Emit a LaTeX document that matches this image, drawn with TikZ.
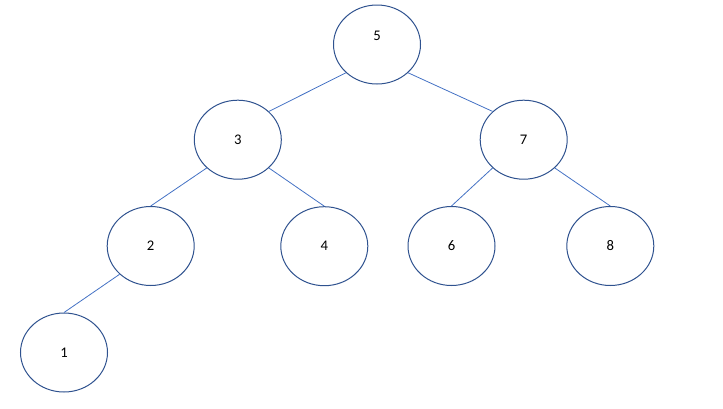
\documentclass[tikz,border=0pt]{standalone}
\usepackage{fontspec}
\setmainfont{Carlito}
\usetikzlibrary{
    positioning,
    shapes.geometric
    }

\definecolor{wordedge}{HTML}{2F528F}
\definecolor{wordline}{HTML}{4472C4}

\begin{document}
\begin{tikzpicture}[x=1pt, y=-1pt]
\tikzset{vertex/.style =
        {
            shape=ellipse,
            line width=1pt,
            draw=wordedge,
            fill=white,
            minimum width=87pt,
            minimum height=79pt,
            inner sep=0pt,
            font=\fontsize{14.7}{16}\selectfont
        }
}

\tikzset{branch/.style =
        {
            line width=0.8pt,
            wordline
        }
}
		\useasboundingbox (0,0) rectangle (723,408);

		\node[vertex, label={[yshift=8.5pt, font=\fontsize{14.7}{16}\selectfont]center:5}] (node-5) at (377,44.5) {};

		\foreach \n / \x / \y in
			{3/237.8/139.7,
				7/523.7/139.7,
				2/150.7/246,
				4/324.3/246.2,
				6/451.5/246,
				8/610.3/246,
				1/64/352.5}
		\node[vertex] at (\x,\y) (node-\n) {\n};

		\draw[branch] (node-5.south west) -- (node-3.north east);
		\draw[branch] (node-5.south east) -- (node-7.north west);

		\foreach \p / \c / \side in
			{3/2/south west,
				3/4/south east,
				7/6/south west,
				7/8/south east,
				2/1/south west}
		\draw[branch] (node-\p.\side) -- (node-\c.north);

	\end{tikzpicture}
\end{document}
